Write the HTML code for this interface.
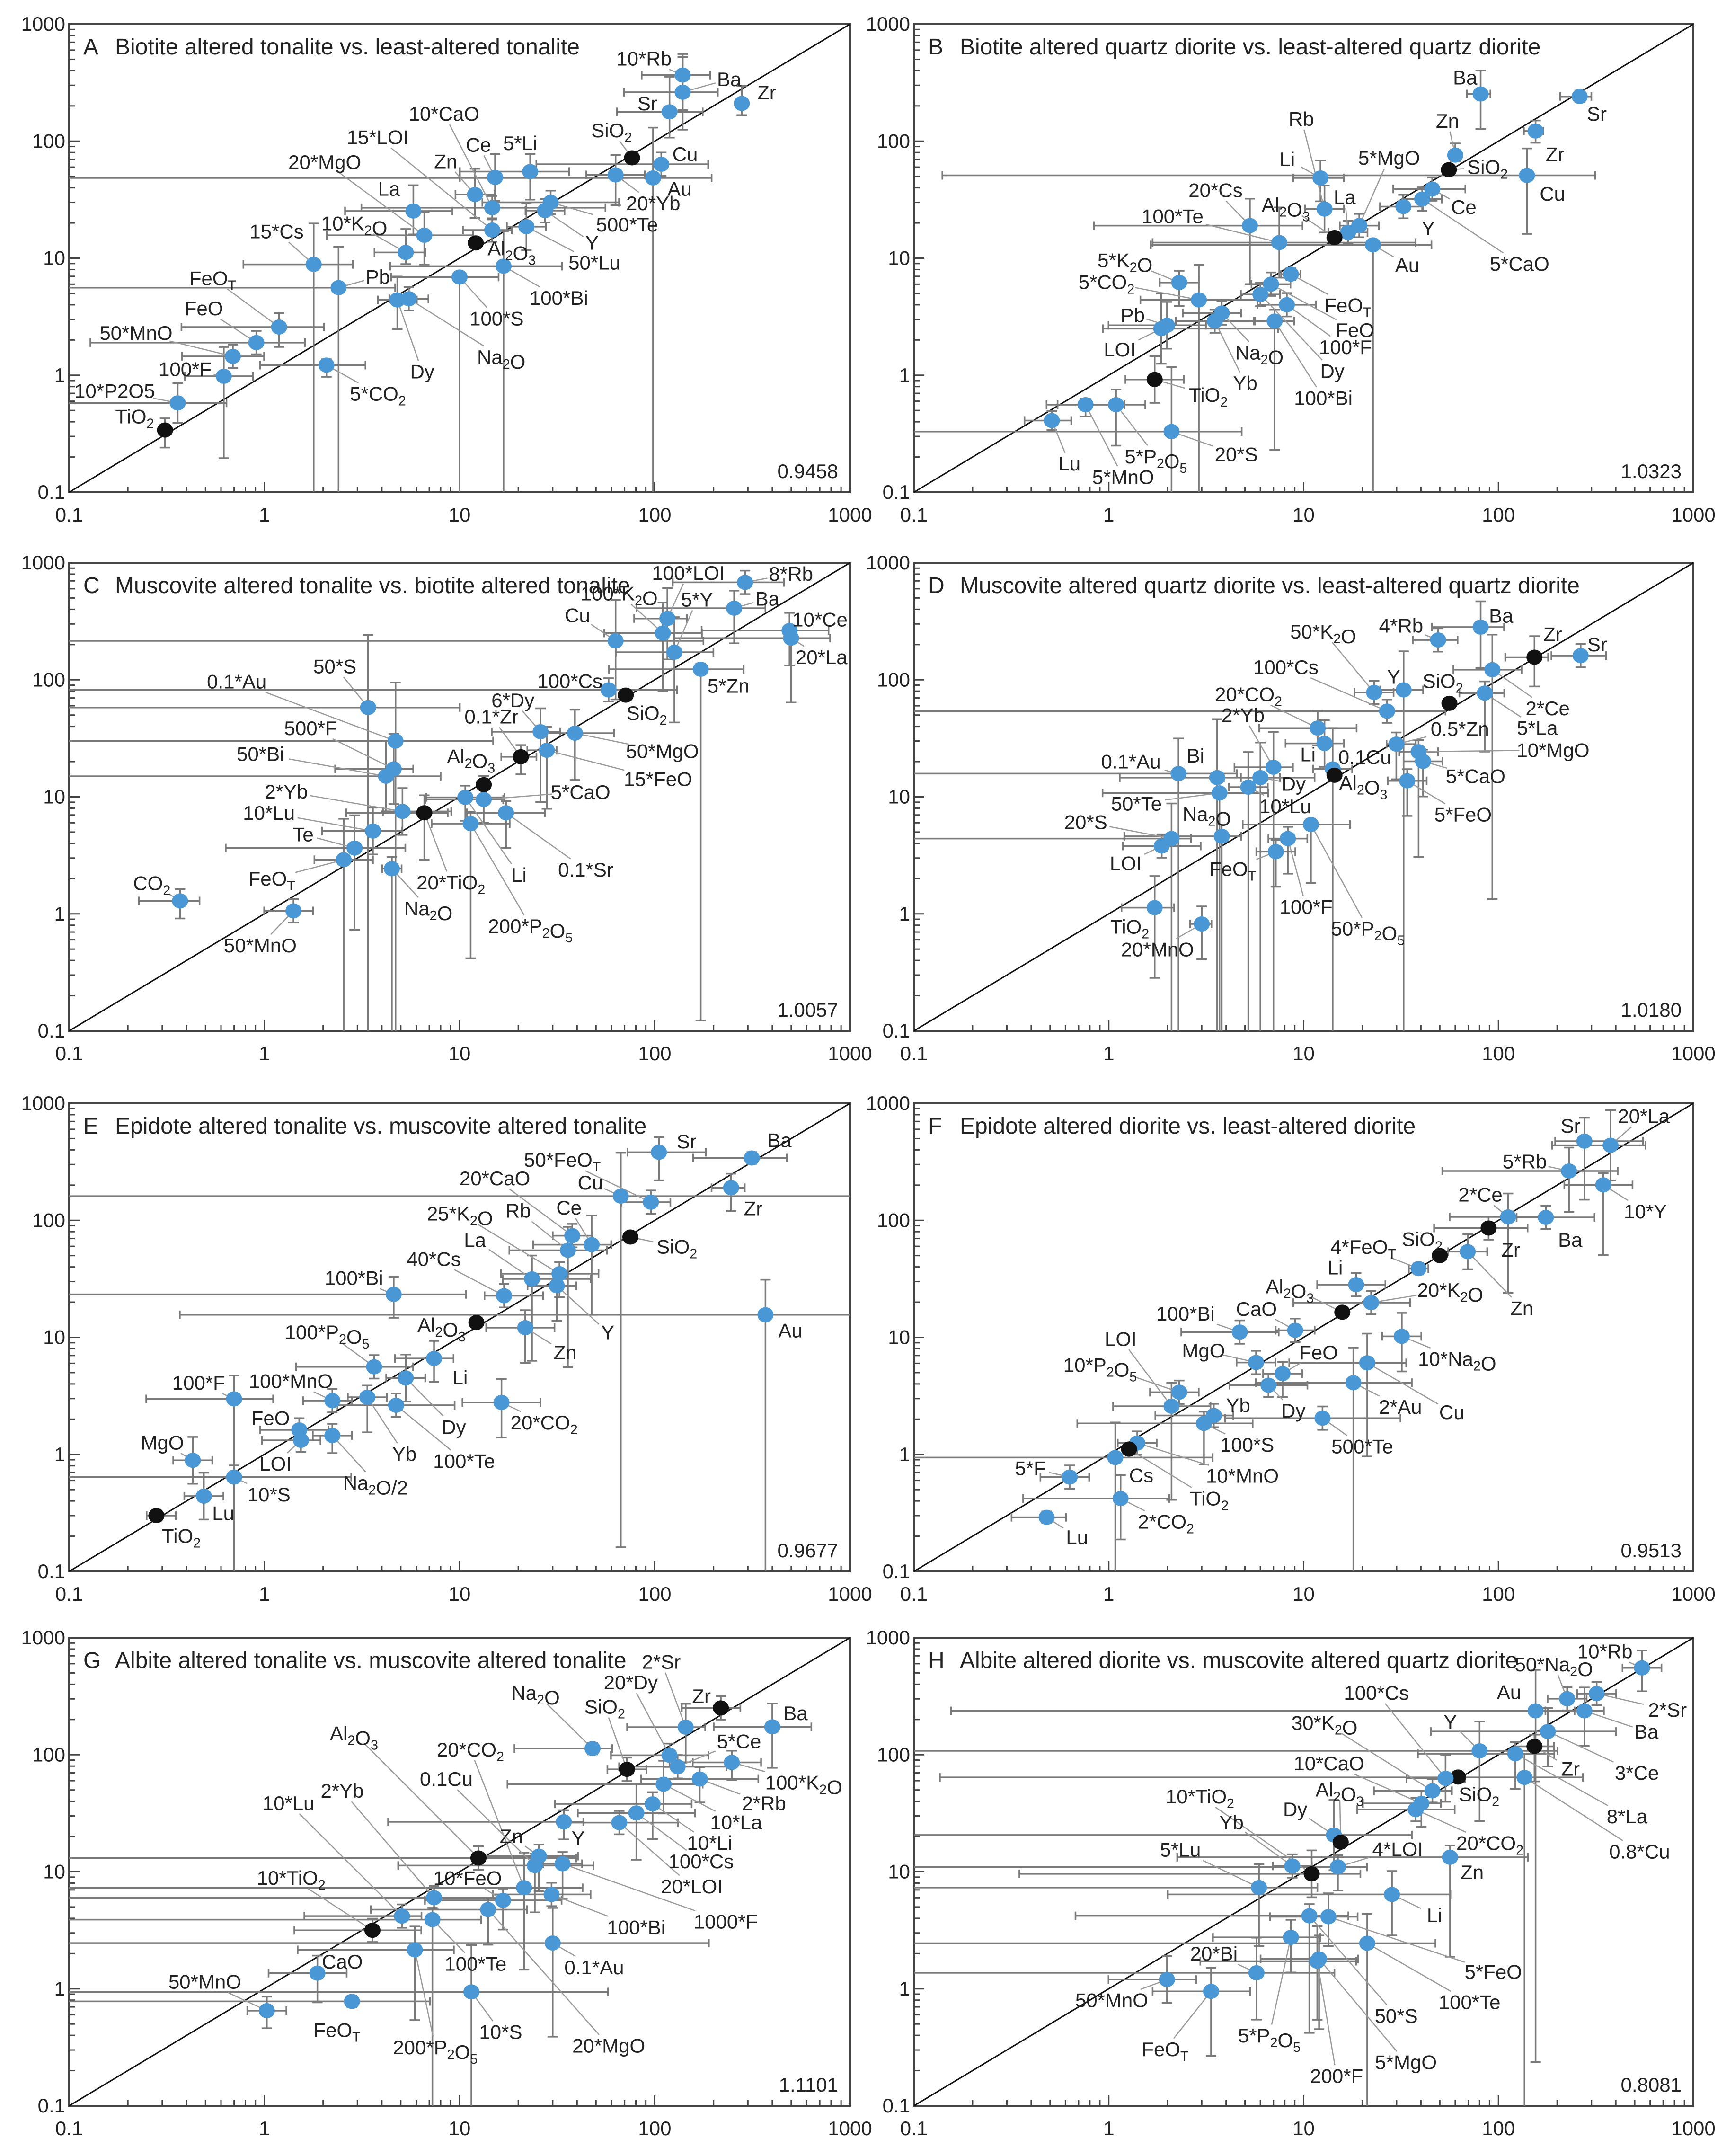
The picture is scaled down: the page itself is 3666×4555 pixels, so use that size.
<!DOCTYPE html>
<html><head><meta charset="utf-8"><title>Isocon diagrams A-H</title>
<style>
html,body{margin:0;padding:0;background:#fff;width:3666px;height:4555px;overflow:hidden;}
svg{display:block;font-family:"Liberation Sans",sans-serif;overflow:hidden;}
</style></head>
<body>
<svg id="fig" xmlns="http://www.w3.org/2000/svg" width="3666" height="4555" viewBox="0 0 3666 4555">
<rect width="3666" height="4555" fill="#fff"/>
</svg>
<script>
// ===== Panel A data =====
const A_labels=["10*Rb","Ba","Zr","Sr","SiO_2","Cu","Au","20*Yb","5*Li","Ce","Zn","10*CaO","15*LOI","La","20*MgO","10*K_2O","Al_2O_3","500*Te","Y","50*Lu","100*Bi","100*S","15*Cs","Pb","Dy","Na_2O","FeO_T","FeO","50*MnO","5*CO_2","100*F","10*P2O5","TiO_2"];
const A_x=[139,139,279,119,76.5,108,98,63,23,15.2,12,14.7,14.7,5.8,6.6,5.3,12.1,29.3,27.4,22,16.8,10,1.79,2.4,4.8,5.5,1.19,0.91,0.69,2.08,0.62,0.36,0.31];
const A_y=[367,262,210,178,72,63.5,48.5,51.5,55,49,35,27,17.4,25.3,15.7,11.2,13.5,30,25.5,18.6,8.55,6.9,8.85,5.6,4.4,4.5,2.58,1.9,1.45,1.22,0.98,0.58,0.34];
const A_err=[[0.21,0.14,0.3,0.18],[0.3,0.18,0.32,0.3],[0.02,0.02,0.1,0.15],[0.27,0.17,0.22,0.3],[0,0,0,0],[0.64,0.24,0.1,0.1],[3,0.3,3,0.43],[0.15,0.15,0.26,0.17],[0.36,0.2,0.24,0.15],[0.18,0.18,0.2,0.2],[0.1,0.1,0.2,0.22],[0.67,0.58,0.1,0.1],[0.15,0.1,0.1,0.1],[0.35,0.2,0.2,0.22],[0.5,0.25,0.25,0.2],[0.16,0.1,0.1,0.2],[0,0,0,0],[0.35,0.35,0.1,0.1],[0.1,0.1,0.1,0.1],[0.1,0.1,0.2,0.2],[0.58,0.3,3,0.3],[0.35,0.2,3,0],[0.36,0.2,3,0.35],[3,0.29,3,0.35],[0.1,0.1,0.25,0.2],[0.1,0.1,0.1,0.1],[0.5,0.23,0.17,0.12],[0.85,0.25,0.1,0.1],[0.26,0.16,0.1,0.1],[0.34,0.2,0.1,0.05],[0.2,0.15,0.7,0.25],[3,0.25,0.17,0.17],[0,0,0.15,0.1]];
const A_black=["SiO_2","Al_2O_3","TiO_2"];
const A_off=[[-70,-48],[84,-38],[45,-32],[-40,-25],[-37,-80],[43,-30],[48,31],[68,82],[-18,-83],[-30,-95],[-53,-97],[-87,-273],[-207,-270],[-44,-65],[-180,-213],[-93,-85],[65,16],[138,64],[85,93],[123,104],[100,92],[67,120],[-67,-96],[71,-32],[45,208],[167,169],[-120,-142],[-95,-100],[-175,-68],[93,83],[-70,-21],[-114,-35],[-55,-40]];

// ===== Panel B data =====
const B_labels=["Ba","Sr","Zr","Zn","SiO_2","Cu","Li","Rb","Ce","5*CaO","Y","La","5*MgO","Al_2O_3","Au","20*Cs","100*Te","FeO_T","FeO","100*F","Dy","100*Bi","5*K_2O","5*CO_2","Na_2O","Yb","Pb","LOI","TiO_2","5*P_2O_5","5*MnO","Lu","20*S"];
const B_x=[81,261,155,60,55.6,140,12.2,12.8,45.7,40.6,32.5,16.9,19.3,14.4,22.7,5.3,7.5,8.6,6.8,8.2,6.0,7.1,2.3,2.9,3.8,3.5,1.99,1.86,1.72,1.09,0.76,0.51,2.1];
const B_y=[253,241,122,76,57,51,48.5,26.3,39,32,27.6,16.6,19,15,13,19,13.6,7.3,6.0,4.0,4.9,2.9,6.2,4.4,3.4,2.9,2.67,2.5,0.92,0.56,0.56,0.41,0.33];
const B_err=[[0.07,0.05,0.3,0.2],[0.1,0.06,0.05,0.05],[0.06,0.04,0.1,0.09],[0.03,0.03,0.05,0.1],[0,0,0,0],[3,0.35,0.5,0.23],[0.14,0.12,0.2,0.15],[0.1,0.1,0.2,0.2],[0.2,0.17,0.1,0.1],[0.1,0.1,0.1,0.1],[0.12,0.1,0.1,0.1],[0.1,0.1,0.1,0.1],[0.1,0.1,0.1,0.1],[0,0,0,0],[1.14,0.3,3,0],[0.8,0.27,0.5,0.23],[0.65,0.7,0.3,0.3],[0.05,0.05,0.05,0.05],[0.1,0.1,0.1,0.1],[0.15,0.15,0.1,0.1],[0.1,0.1,0.1,0.1],[0.1,0.1,1.1,0.1],[0.1,0.1,0.2,0.1],[0.3,0.3,3,0.3],[0.2,0.1,0.1,0.1],[0.2,0.2,0.1,0.1],[0.3,0.2,0.2,0.2],[0.3,0.6,0.3,0.3],[0.15,0.15,0.2,0.2],[0.3,0.15,0.35,0.13],[0.2,0.2,0.1,0.05],[0.14,0.1,0.08,0.08],[3,0.36,3,0.55]];
const B_black=["SiO_2","Al_2O_3","TiO_2"];
const B_off=[[-28,-48],[31,50],[35,67],[-14,-100],[70,-8],[46,53],[-60,-55],[-42,-262],[57,52],[176,188],[45,63],[-6,-103],[54,-197],[-88,-95],[62,58],[-62,-103],[-193,-77],[103,90],[152,133],[106,123],[130,222],[88,223],[-98,-65],[-167,-52],[68,115],[55,180],[-62,-30],[-75,60],[97,45],[72,150],[68,210],[32,125],[117,66]];

// ===== Panel C data =====
const C_labels=["8*Rb","Ba","100*LOI","100*K_2O","5*Y","Cu","10*Ce","20*La","5*Zn","100*Cs","SiO_2","50*S","0.1*Au","6*Dy","50*MgO","15*FeO","0.1*Zr","Al_2O_3","20*TiO_2","500*F","50*Bi","5*CaO","Li","0.1*Sr","200*P_2O_5","2*Yb","10*Lu","Te","FeO_T","Na_2O","CO_2","50*MnO"];
const C_x=[290,255,116,110,126,63,490,499,172,58,71,3.4,4.7,26,39,28,20.6,13.3,6.6,4.6,4.2,13.3,10.7,17.3,11.4,5.1,3.6,2.9,2.55,4.5,0.37,1.41];
const C_y=[680,409,334,251,172,215,264,227,123,82,74,58,30,36,35,25,22,12.7,7.3,17.3,15,9.5,9.9,7.3,5.9,7.5,5.1,3.65,2.9,2.43,1.29,1.06];
const C_err=[[0.37,0.2,0.1,0.1],[0.5,0.16,0.3,0.15],[0.17,0.1,0.35,0.26],[0.3,0.2,0.5,0.26],[0.3,0.2,0.6,0.3],[3,0.45,0.5,0.35],[0.45,0.2,0.3,0.15],[0.6,0.2,0.55,0.1],[0.47,0.22,3,0.05],[3,0.35,0.1,0.1],[0,0,0,0],[3,0.47,3,0.62],[3,0.5,3,0.5],[0.25,0.1,0.6,0.2],[0.15,0.2,0.4,0.2],[0.1,0.05,0.5,0.2],[0.1,0.08,0.15,0.1],[0,0,0,0],[0.4,0.12,0.4,0.15],[0.3,0.1,0.3,0.3],[3,0.28,0.3,0.3],[0.3,0.1,0.2,0.2],[0.2,0.2,0.2,0.1],[0.2,0.2,0.3,0.1],[0.2,0.2,1.15,0.1],[0.1,0.25,0.2,0.2],[0.26,0.15,0.2,0.2],[0.66,0.26,0.7,0.28],[0.15,0.15,3,0.35],[0.05,0.05,3,0.1],[0.21,0.1,0.15,0.1],[0.15,0.1,0.1,0.1]];
const C_black=["SiO_2","0.1*Zr","Al_2O_3","20*TiO_2"];
const C_off=[[83,-25],[60,-28],[38,-133],[-79,-115],[41,-153],[-69,-75],[55,-32],[55,55],[50,48],[-70,-26],[38,52],[-60,-120],[-287,-173],[-50,-92],[158,52],[201,83],[-53,-117],[-23,-83],[48,202],[-150,-119],[-227,-65],[175,-22],[97,225],[144,165],[108,297],[-210,-58],[-188,-53],[-93,-40],[-130,55],[66,115],[-51,-52],[-60,100]];

// ===== Panel D data =====
const D_labels=["Ba","4*Rb","Zr","Sr","2*Ce","5*La","Y","50*K_2O","SiO_2","100*Cs","20*CO_2","Li","0.5*Zn","10*MgO","5*CaO","5*FeO","0.1Cu","Al_2O_3","2*Yb","0.1*Au","Bi","Dy","10*Lu","50*Te","50*P_2O_5","100*F","FeO_T","Na_2O","20*S","LOI","TiO_2","20*MnO"];
const D_x=[81,49,153,264,93,85,32.6,23,56,26.8,11.8,12.8,29.9,38.9,41,34,14.1,14.4,7.0,2.28,3.6,6.0,5.2,3.7,10.9,8.3,7.2,3.8,2.1,1.87,1.72,3.0];
const D_y=[282,219,156,161,122,77,82,78,63,54,38.7,28.6,28.2,24.3,20.1,13.7,17.3,15.3,17.9,15.8,14.6,14.6,12.1,10.8,5.8,4.4,3.4,4.6,4.4,3.8,1.13,0.82];
const D_err=[[0.25,0.12,0.35,0.22],[0.13,0.1,0.1,0.1],[0.15,0.07,0.25,0.18],[0.15,0.13,0.1,0.1],[0.2,0.15,1.96,0.3],[0.13,0.1,0.5,0.1],[0.12,0.1,3,0.33],[0.1,0.1,0.1,0.1],[0,0,0,0],[3,0.3,0.1,0.1],[0.3,0.2,0.15,0.15],[0.2,0.1,0.2,0.2],[0.05,0.1,0.3,0.1],[0.1,0.1,0.9,0.1],[0.1,0.1,0.3,0.1],[0.1,0.1,0.3,0.1],[0.1,0.1,3,0.35],[0,0,0,0],[0.2,0.1,3,0.3],[3,0.3,3,0.3],[0.5,0.5,3,0.5],[0.1,0.1,3,0.3],[0.1,0.1,3,0.3],[0.6,0.25,3,0.1],[0.35,0.2,0.5,0.05],[0.1,0.1,0.3,0.1],[0.1,0.1,0.3,0.1],[0.5,0.1,3,0.1],[3,0.1,3,0.3],[0.2,0.2,0.1,0.1],[0.17,0.1,0.6,0.27],[0.06,0.05,0.3,0.15]];
const D_black=["Zr","SiO_2","Al_2O_3"];
const D_off=[[37,-33],[-67,-42],[33,-67],[30,-33],[100,112],[95,101],[-18,-38],[-92,-177],[-12,-65],[-183,-128],[-125,-98],[-30,32],[115,-45],[243,-5],[95,43],[101,98],[58,-35],[52,22],[-55,-152],[-86,-35],[-39,-64],[60,18],[67,55],[-150,31],[103,302],[33,198],[-78,50],[-27,-65],[-155,-48],[-65,50],[-45,55],[-80,74]];

// ===== Panel E data =====
const E_labels=["Sr","Ba","Zr","Cu","50*FeO_T","SiO_2","20*CaO","Ce","Rb","La","25*K_2O","Y","40*Cs","100*Bi","Al_2O_3","Zn","Au","Li","100*P_2O_5","Dy","100*F","100*MnO","Yb","100*Te","20*CO_2","FeO","LOI","Na_2O/2","MgO","10*S","Lu","TiO_2"];
const E_x=[105,314,246,67,95.5,75,37.8,47.5,35.9,23.5,32.5,31.5,16.9,4.6,12.2,21.7,369,7.4,3.65,5.3,0.70,2.23,3.37,4.73,16.4,1.51,1.54,2.23,0.43,0.7,0.49,0.28];
const E_y=[382,341,190,161,143,72,74,62,55.5,31.6,35,27.6,22.7,23.3,13.4,12.1,15.6,6.6,5.6,4.5,2.98,2.88,3.08,2.63,2.78,1.62,1.32,1.45,0.89,0.64,0.44,0.30];
const E_err=[[0.16,0.24,0.24,0.13],[0.3,0.18,0.05,0.05],[0.1,0.07,0.2,0.12],[3,3,3,0.37],[0.15,0.1,0.1,0.1],[0,0,0,0],[0.1,0.1,0.1,0.1],[0.3,0.1,0.6,0.25],[0.3,0.2,1,0.2],[0.15,0.3,0.7,0.2],[0.3,0.2,0.2,0.1],[0.15,0.1,0.3,0.1],[0.1,0.2,0.1,0.1],[3,0.37,0.2,0.15],[0,0,0,0],[0.2,0.15,0.3,0.15],[3,3,3,0.3],[0.2,0.1,0.2,0.15],[0.4,0.2,0.1,0.1],[0.1,0.1,0.2,0.2],[0.45,0.2,3,0.2],[0.15,0.1,0.1,0.1],[0.1,0.1,0.3,0.1],[0.3,0.3,0.1,0.1],[0.2,0.2,0.3,0.2],[0.2,0.15,0.1,0.1],[0.2,0.1,0.1,0.1],[0.1,0.1,0.15,0.1],[0.1,0.1,0.2,0.2],[3,0.6,3,0.1],[0.1,0.1,0.2,0.2],[0.05,0.1,0.05,0.05]];
const E_black=["SiO_2","Al_2O_3","TiO_2"];
const E_off=[[50,-32],[50,-52],[40,60],[-55,-40],[-160,-123],[84,28],[-140,-167],[-41,-108],[-90,-115],[-103,-113],[-180,-175],[92,135],[-127,-107],[-72,-48],[-63,7],[72,72],[45,45],[47,55],[-85,-101],[87,142],[-64,-47],[-75,-57],[67,165],[123,162],[77,58],[-52,-35],[-46,68],[78,137],[-55,-52],[63,50],[35,49],[45,59]];

// ===== Panel F data =====
const F_labels=["Sr","20*La","5*Rb","10*Y","2*Ce","Ba","Zr","SiO_2","Zn","4*FeO_T","Li","20*K_2O","Al_2O_3","CaO","100*Bi","10*Na_2O","MgO","Cu","FeO","Dy","2*Au","10*P_2O_5","LOI","Yb","500*Te","100*S","10*MnO","TiO_2","Cs","5*F","2*CO_2","Lu"];
const F_x=[276,376,230,345,112,175,89,50,69.5,38.9,18.6,22.2,15.8,9.05,4.7,31.9,5.7,21.2,7.8,6.6,18,2.3,2.1,3.46,12.5,3.08,1.4,1.27,1.08,0.63,1.15,0.48];
const F_y=[475,438,264,201,107,106,86,50,54,38.7,28.2,19.8,16.4,11.5,11.1,10.2,6.1,6.06,4.9,3.9,4.1,3.4,2.58,2.15,2.04,1.84,1.25,1.11,0.94,0.64,0.42,0.29];
const F_err=[[0.15,0.3,0.5,0.2],[0.3,0.18,0.3,0.3],[0.65,0.25,0.35,0.2],[0.2,0.15,0.6,0.1],[0.3,0.2,0.65,0.2],[0.15,0.25,0.1,0.1],[0.28,0.2,0.1,0.1],[0,0,0,0],[0.1,0.1,0.15,0.15],[0.05,0.05,0.05,0.05],[0.2,0.15,0.1,0.1],[0.4,0.2,0.1,0.1],[0,0,0,0],[0.1,0.1,0.1,0.1],[0.3,0.2,0.1,0.1],[0.1,0.1,0.3,0.2],[0.1,0.1,0.1,0.1],[0.4,0.2,0.8,0.25],[0.1,0.1,0.2,0.1],[0.2,0.2,0.1,0.1],[0.5,0.3,3,0.3],[0.15,0.1,0.1,0.1],[0.3,0.2,0.8,0.2],[0.3,0.1,0.1,0.1],[0.5,0.4,0.1,0.1],[0.65,0.25,0.35,0.1],[0.1,0.1,0.1,0.1],[0,0,0,0],[3,0.5,3,0.3],[0.15,0.1,0.1,0.1],[0.5,0.25,0.35,0.2],[0.18,0.1,0.05,0.05]];
const F_black=["Zr","SiO_2","Al_2O_3","TiO_2"];
const F_off=[[-25,-45],[60,-85],[-80,-28],[76,77],[-50,-65],[44,65],[40,63],[-32,-48],[98,164],[-100,-63],[-38,-50],[143,-37],[-95,-75],[-70,-62],[-98,-54],[100,65],[-95,-35],[153,143],[65,-62],[45,74],[85,70],[-143,-79],[-92,-196],[44,-30],[72,82],[78,62],[190,95],[145,143],[47,51],[-71,-26],[82,67],[55,57]];

// ===== Panel G data =====
const G_labels=["Zr","2*Sr","Ba","Na_2O","20*Dy","SiO_2","5*Ce","100*K_2O","2*Rb","10*La","10*Li","100*Cs","20*LOI","Y","Al_2O_3","Zn","0.1Cu","1000*F","20*CO_2","100*Bi","10*FeO","20*MgO","2*Yb","10*Lu","100*Te","10*TiO_2","200*P_2O_5","0.1*Au","CaO","10*S","FeO_T","50*MnO"];
const G_x=[218,144,400,48,119,72,131,248,170,111,97.5,80.5,65.8,34.2,12.5,25.5,24.3,33.7,21.4,29.6,16.7,14,7.4,5.07,7.26,3.58,5.9,30,1.87,11.5,2.81,1.03];
const G_y=[251,172,173,113,99,75,79,86,62,56,38,31.8,26.3,26.7,13.1,13.6,11.3,11.7,7.3,6.4,5.7,4.75,6.0,4.18,3.9,3.16,2.15,2.46,1.36,0.94,0.78,0.65];
const G_err=[[0.2,0.1,0.1,0.1],[0.3,0.1,0.3,0.2],[0.3,0.2,0.35,0.2],[0.4,0.1,0.05,0.05],[0.3,0.2,0.1,0.1],[0.1,0.1,0.1,0.1],[0.3,0.25,0.1,0.1],[0.2,0.15,0.15,0.1],[0.3,0.3,0.2,0.1],[0.8,0.2,0.25,0.2],[0.5,0.2,0.3,0.1],[0.3,0.3,0.4,0.25],[0.3,0.3,0.1,0.1],[0.9,0.1,0.15,0.1],[3,0.5,0.1,0.1],[0.3,0.2,0.3,0.1],[0.7,0.3,0.4,0.1],[0.1,0.1,0.3,0.1],[3,0.3,0.7,0.3],[0.3,0.2,0.1,0.1],[0.4,0.3,0.25,0.1],[0.6,0.2,0.3,0.1],[3,0.35,0.1,0.1],[0.5,0.1,0.1,0.1],[3,0.25,3,0.1],[0.4,0.25,0.1,0.1],[0.6,0.2,0.6,0.2],[3,0.8,0.8,0.3],[0.25,0.15,0.25,0.15],[3,0.7,3,0.4],[3,0.4,0.05,0.05],[0.1,0.1,0.15,0.12]];
const G_black=["Zr","SiO_2","Al_2O_3","10*TiO_2"];
const G_off=[[-35,-35],[-44,-190],[42,-40],[-103,-162],[-70,-212],[-40,-182],[111,-74],[130,58],[116,70],[131,110],[103,113],[117,140],[131,185],[26,47],[-225,-363],[-50,-58],[-160,-252],[295,168],[-97,-402],[153,95],[-64,-65],[218,395],[-166,-311],[-205,-329],[78,128],[-147,-153],[37,283],[75,70],[45,-34],[53,116],[-27,83],[-112,-84]];

// ===== Panel H data =====
const H_labels=["10*Rb","50*Na_2O","2*Sr","Au","Ba","3*Ce","Zr","Y","8*La","0.8*Cu","SiO_2","100*Cs","30*K_2O","10*CaO","20*CO_2","Dy","Al_2O_3","Zn","Yb","10*TiO_2","4*LOI","5*Lu","Li","50*S","5*FeO","5*P_2O_5","100*Te","200*F","5*MgO","20*Bi","50*MnO","FeO_T"];
const H_x=[545,225,319,155,276,179,153,80,122,136,62,53.5,45.8,40.2,37.6,14.3,15.5,56.4,8.75,11,15,5.9,28.4,10.7,13.4,8.6,21.2,11.75,12,5.73,1.99,3.35];
const H_y=[552,301,333,237,237,158,118,108,102,64,64.5,62.8,49.2,38.4,34,20.6,17.9,13.3,11.2,9.6,11,7.33,6.4,4.2,4.13,2.75,2.45,1.72,1.8,1.37,1.2,0.95];
const H_err=[[0.1,0.1,0.2,0.15],[0.1,0.1,0.1,0.1],[0.1,0.1,0.1,0.1],[3,0.2,3,0.35],[0.2,0.1,0.3,0.2],[0.6,0.35,0.3,0.2],[0.1,0.1,0.3,0.1],[3,0.4,0.6,0.25],[0.5,0.2,0.3,0.1],[3,0.3,3,0.2],[0,0,0,0],[0.2,0.1,0.2,0.2],[0.3,0.1,0.1,0.1],[0.3,0.1,0.2,0.1],[0.3,0.2,0.1,0.1],[3,0.4,0.3,0.3],[0,0,0,0],[1.4,0.4,0.85,0.1],[0.1,0.1,0.1,0.1],[1.5,0.25,0.2,0.2],[3,0.15,0.2,0.1],[3,0.3,0.5,0.2],[1.15,0.3,0.35,0.2],[1.2,0.2,1.0,0.1],[0.3,0.15,0.25,0.2],[0.4,0.15,0.3,0.15],[3,0.35,3,0.25],[0.6,0.2,0.5,0.3],[0.3,0.2,0.6,0.2],[3,0.4,0.4,0.3],[0.3,0.15,0.2,0.2],[0.3,0.2,0.55,0.2]];
const H_black=["Zr","SiO_2","Al_2O_3","10*TiO_2"];
const H_off=[[-67,-48],[-24,-100],[128,47],[-48,-55],[112,60],[161,120],[65,65],[-53,-84],[202,182],[208,215],[38,50],[-125,-249],[-195,-198],[-167,-117],[134,97],[-70,-75],[-2,-153],[40,43],[-110,-127],[-202,-225],[108,-52],[-142,-110],[77,60],[157,290],[298,160],[-39,285],[185,171],[35,333],[157,300],[-77,-56],[-100,60],[-83,168]];

const panelTitles=["Biotite altered tonalite vs. least-altered tonalite","Biotite altered quartz diorite vs. least-altered quartz diorite","Muscovite altered tonalite vs. biotite altered tonalite","Muscovite altered quartz diorite vs. least-altered quartz diorite","Epidote altered tonalite vs. muscovite altered tonalite","Epidote altered diorite vs. least-altered diorite","Albite altered tonalite vs. muscovite altered tonalite","Albite altered diorite vs. muscovite altered quartz diorite"];
const panelSlopes=["0.9458","1.0323","1.0057","1.0180","0.9677","0.9513","1.1101","0.8081"];
const tickValues=[0.1,1,10,100,1000];
const tickLabels=["0.1","1","10","100","1000"];

const NS="http://www.w3.org/2000/svg";
const svg=document.getElementById('fig');
const colX=[[146,1796],[1931,3578]];
const rowY=[51,1189,2331,3460];
const PH=989;
const ZX=1.169, ZY=0.727;
const FS=42;

function mk(tag,attrs,parent){const e=document.createElementNS(NS,tag);for(const k in attrs)e.setAttribute(k,attrs[k]);(parent||svg).appendChild(e);return e;}
function addLabelText(t,str){
  let i=0;
  while(i<str.length){
    if(str[i]==='_'&&i+1<str.length){
      const s=document.createElementNS(NS,'tspan');
      s.setAttribute('font-size',FS*0.68);s.setAttribute('dy','10');s.textContent=str[i+1];t.appendChild(s);
      const r=document.createElementNS(NS,'tspan');r.setAttribute('dy','-10');r.textContent='';t.appendChild(r);
      i+=2;continue;
    }
    let j=i;while(j<str.length&&str[j]!=='_')j++;
    t.appendChild(document.createTextNode(str.slice(i,j)));i=j;
  }
}
function slug(s){return s.toLowerCase().replace(/[^a-z0-9]+/g,'-').replace(/^-|-$/g,'');}
function clampLog(l){return Math.max(-1,Math.min(3,l));}

function drawPanel(pi,letter,labels,xs,ys,errs,offs,blacks){
  const X0=colX[pi%2][0],X1=colX[pi%2][1],Y0=rowY[Math.floor(pi/2)],Y1=Y0+PH;
  const sxl=l=>X0+(l+1)/4*(X1-X0);
  const syl=l=>Y1-(l+1)/4*(Y1-Y0);
  const sx=v=>sxl(Math.log10(v));
  const sy=v=>syl(Math.log10(v));
  const g=mk('g',{});
  
  
  const fr=mk('rect',{x:X0,y:Y0,width:X1-X0,height:Y1-Y0,fill:'none',stroke:'#444','stroke-width':4},g);
  
  
  const tg=mk('g',{stroke:'#444','stroke-width':3},g);
  for(let d=-1;d<3;d++){for(let m=2;m<10;m++){const v=m*Math.pow(10,d);
    const x=sx(v),y=sy(v);
    mk('line',{x1:x,y1:Y1,x2:x,y2:Y1-12},tg);mk('line',{x1:X0,y1:y,x2:X0+12,y2:y},tg);}}
  tickValues.forEach((v,k)=>{
    const x=sx(v),y=sy(v);
    mk('line',{x1:x,y1:Y1,x2:x,y2:Y1-22},tg);mk('line',{x1:X0,y1:y,x2:X0+22,y2:y},tg);
    const xt=mk('text',{x:x,y:Y1+62,'font-size':FS,'text-anchor':'middle',fill:'#222'},g);
    xt.textContent=tickLabels[k];
    
    
    const yt=mk('text',{x:X0-8,y:y+14,'font-size':FS,'text-anchor':'end',fill:'#222'},g);
    yt.textContent=tickLabels[k];
    
    
  });
  const dl=mk('line',{x1:sx(0.1),y1:sy(0.1),x2:sx(1000),y2:sy(1000),stroke:'#111','stroke-width':3},g);
  
  
  const tl=mk('text',{x:X0+30,y:Y0+64,'font-size':48,fill:'#222'},g);
  tl.textContent=letter;
  
  
  const tt=mk('text',{x:X0+97,y:Y0+64,'font-size':48,fill:'#222'},g);
  tt.textContent=panelTitles[pi];
  
  
  const sl=mk('text',{x:X1-25,y:Y1-30,'font-size':FS,'text-anchor':'end',fill:'#222'},g);
  sl.textContent=panelSlopes[pi];
  
  
  const eg=mk('g',{stroke:'#7a7a7a','stroke-width':3.5},g);
  
  
  labels.forEach((lab,i)=>{
    const e=errs[i],lx=Math.log10(xs[i]),ly=Math.log10(ys[i]);
    const x=sxl(lx),y=syl(ly);
    if(e[0]+e[1]>0){
      const la=lx-e[0],lb=lx+e[1];
      const xa=sxl(clampLog(la)),xb=sxl(clampLog(lb));
      const l=mk('line',{x1:xa,y1:y,x2:xb,y2:y},eg);
      
      
      if(la>-1)mk('line',{x1:xa,y1:y-9,x2:xa,y2:y+9},eg);
      if(lb<3)mk('line',{x1:xb,y1:y-9,x2:xb,y2:y+9},eg);
    }
    if(e[2]+e[3]>0){
      const la=ly-e[2],lb=ly+e[3];
      const ya=syl(clampLog(la)),yb=syl(clampLog(lb));
      const l=mk('line',{x1:x,y1:ya,x2:x,y2:yb},eg);
      
      
      if(la>-1)mk('line',{x1:x-11,y1:ya,x2:x+11,y2:ya},eg);
      if(lb<3)mk('line',{x1:x-11,y1:yb,x2:x+11,y2:yb},eg);
    }
  });
  const lg=mk('g',{stroke:'#9a9a9a','stroke-width':2.5},g);
  const pg=mk('g',{},g);
  const txg=mk('g',{'font-size':FS,fill:'#222'},g);
  labels.forEach((lab,i)=>{
    const x=sx(xs[i]),y=sy(ys[i]);
    const cx=x+offs[i][0]*ZX, cy=y+offs[i][1]*ZY;
    const plain=lab.replace(/_/g,'');
    const w=plain.length*FS*0.5, h=FS*0.8;
    const dx=cx-x, dy=cy-y, dist=Math.hypot(dx,dy);
    if(dist>70){
      const hw=w/2+8, hh=h/2+6;
      const t=Math.min(hw/Math.max(Math.abs(dx),1e-6),hh/Math.max(Math.abs(dy),1e-6));
      const ex=cx-dx*t, ey=cy-dy*t;
      const ld=mk('line',{x1:x,y1:y,x2:ex,y2:ey},lg);
      
      
    }
    const isB=blacks.indexOf(lab)>=0;
    const c=mk('ellipse',{cx:x,cy:y,rx:17,ry:16,fill:isB?'#111':'#4a97d6'},pg);
    
    
    const t=mk('text',{x:cx,y:cy+h/2-2,'text-anchor':'middle'},txg);
    addLabelText(t,lab);
    
    
  });
}

drawPanel(0,'A',A_labels,A_x,A_y,A_err,A_off,A_black);
drawPanel(1,'B',B_labels,B_x,B_y,B_err,B_off,B_black);
drawPanel(2,'C',C_labels,C_x,C_y,C_err,C_off,C_black);
drawPanel(3,'D',D_labels,D_x,D_y,D_err,D_off,D_black);
drawPanel(4,'E',E_labels,E_x,E_y,E_err,E_off,E_black);
drawPanel(5,'F',F_labels,F_x,F_y,F_err,F_off,F_black);
drawPanel(6,'G',G_labels,G_x,G_y,G_err,G_off,G_black);
drawPanel(7,'H',H_labels,H_x,H_y,H_err,H_off,H_black);
</script>
</body></html>
